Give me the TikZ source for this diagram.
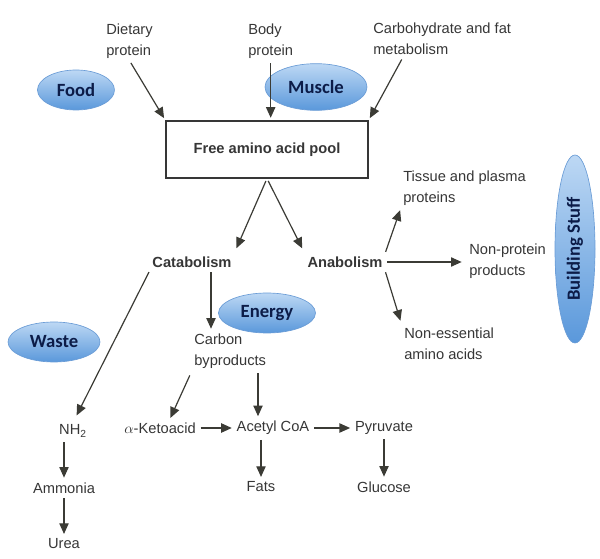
\documentclass[tikz,border=0pt]{standalone}
\usepackage{fontspec}
\setmainfont{Liberation Sans}
\newfontfamily\blobfont{Carlito}
\usetikzlibrary{shapes,arrows.meta}
\definecolor{inkgray}{HTML}{363636}
\definecolor{arrowgray}{HTML}{3B3B35}
\definecolor{blobtop}{HTML}{BDD8F4}
\definecolor{blobbottom}{HTML}{5A98DB}
\definecolor{blobedge}{HTML}{6A9CD6}
\definecolor{blobtext}{HTML}{0C1C48}

\begin{document}
\begin{tikzpicture}[x=0.75pt,y=-0.75pt]
		\tikzstyle {label text} = [text=inkgray, inner sep=1.5pt, font=\fontsize{11}{15.75}\selectfont, align=left]
		\tikzstyle {stage} = [label text, font=\fontsize{11}{15.75}\selectfont\bfseries]
		\tikzstyle {blob} = [ellipse, draw=blobedge, line width=0.5pt, top color=blobtop, bottom color=blobbottom, text=blobtext, font=\blobfont\fontsize{14}{16}\selectfont\bfseries, inner sep=0pt]
		\tikzstyle {flow} = [draw=arrowgray, line width=0.9pt, -{Triangle[length=8pt,width=7pt]}, shorten <=2pt, shorten >=2pt]

		\useasboundingbox (0,0) rectangle (600,559);

		\node[label text, anchor=west] (diet) at (104,41) {Dietary\\protein};
		\node[label text, anchor=west] (body) at (246,41) {Body\\protein};
		\node[label text, anchor=west] (carb) at (371,39) {Carbohydrate and fat\\metabolism};

		\node[blob, minimum width=57.75pt, minimum height=30pt] (food) at (76,90) {Food};
		\node[blob, minimum width=76.5pt, minimum height=35pt] (muscle) at (316,87) {Muscle};

		\node[draw=inkgray, line width=0.8pt, minimum width=151.5pt, minimum height=42.75pt, stage] (pool) at (267,149.5) {Free amino acid pool};

		\node[stage] (cata) at (192,262) {Catabolism};
		\node[stage] (ana) at (345,262) {Anabolism};

		\node[label text, anchor=west] (tissue) at (401,188) {Tissue and plasma\\proteins};
		\node[label text, anchor=west] (nonprot) at (467,261) {Non-protein\\products};
		\node[label text, anchor=west] (ness) at (402,344) {Non-essential\\amino acids};
		\node[blob, minimum width=30pt, minimum height=141pt] (build) at (575,249) {};
		\node[text=blobtext, font=\blobfont\fontsize{14}{16}\selectfont\bfseries, rotate=90] (buildtext) at (build.center) {Building Stuff};

		\node[blob, minimum width=72.75pt, minimum height=30pt] (energy) at (267,313) {Energy};
		\node[blob, minimum width=69pt, minimum height=30pt] (waste) at (54,342) {Waste};
		\node[label text, anchor=west] (carbon) at (192,351) {Carbon\\byproducts};

		\node[label text] (nh) at (73,431) {NH\textsubscript{2}};
		\node[label text] (ammonia) at (64,488) {Ammonia};
		\node[label text] (urea) at (64,544) {Urea};
		\node[label text] (keto) at (160,428) {$\alpha$-Ketoacid};
		\node[label text] (acetyl) at (273,428) {Acetyl CoA};
		\node[label text] (pyr) at (384,428) {Pyruvate};
		\node[label text] (fats) at (261,487) {Fats};
		\node[label text] (glucose) at (384,487) {Glucose};

		\draw[flow] (diet.south) -- (pool.north west);
		\draw[flow] (body.south) -- (body.south |- pool.north);
		\draw[flow] ([xshift=24pt]carb.south west) -- (pool.north east);

		\draw[flow, shorten >=5pt] (pool.south) -- (cata.north east);
		\draw[flow, shorten >=5pt] (pool.south) -- (ana.north west);

		\draw[flow] (ana.north east) -- (tissue.south west);
		\draw[flow, shorten >=4pt] (ana.east) -- (ana.east -| nonprot.west);
		\draw[flow, shorten >=4pt] (ana.south east) -- (ness.north west);

		\draw[flow] ([xshift=14.25pt]cata.south) -- ([xshift=14.25pt]cata.south |- carbon.north);
		\draw[flow, shorten >=6pt] (cata.south west) -- (nh.north);

		\draw[flow, shorten <=4pt] (carbon.south west) -- ([xshift=7pt]keto.north);
		\draw[flow] ([xshift=-11.25pt]acetyl.north |- carbon.south) -- ([xshift=-11.25pt]acetyl.north);
		\draw[flow] (keto.east) -- (acetyl.west);
		\draw[flow] (acetyl.east) -- (pyr.west);
		\draw[flow] (fats.north |- acetyl.south) -- (fats.north);
		\draw[flow] (pyr.south) -- (glucose.north);

		\draw[flow] (nh.south -| ammonia.north) -- (ammonia.north);
		\draw[flow] (ammonia.south) -- (urea.north);
	\end{tikzpicture}
\end{document}
